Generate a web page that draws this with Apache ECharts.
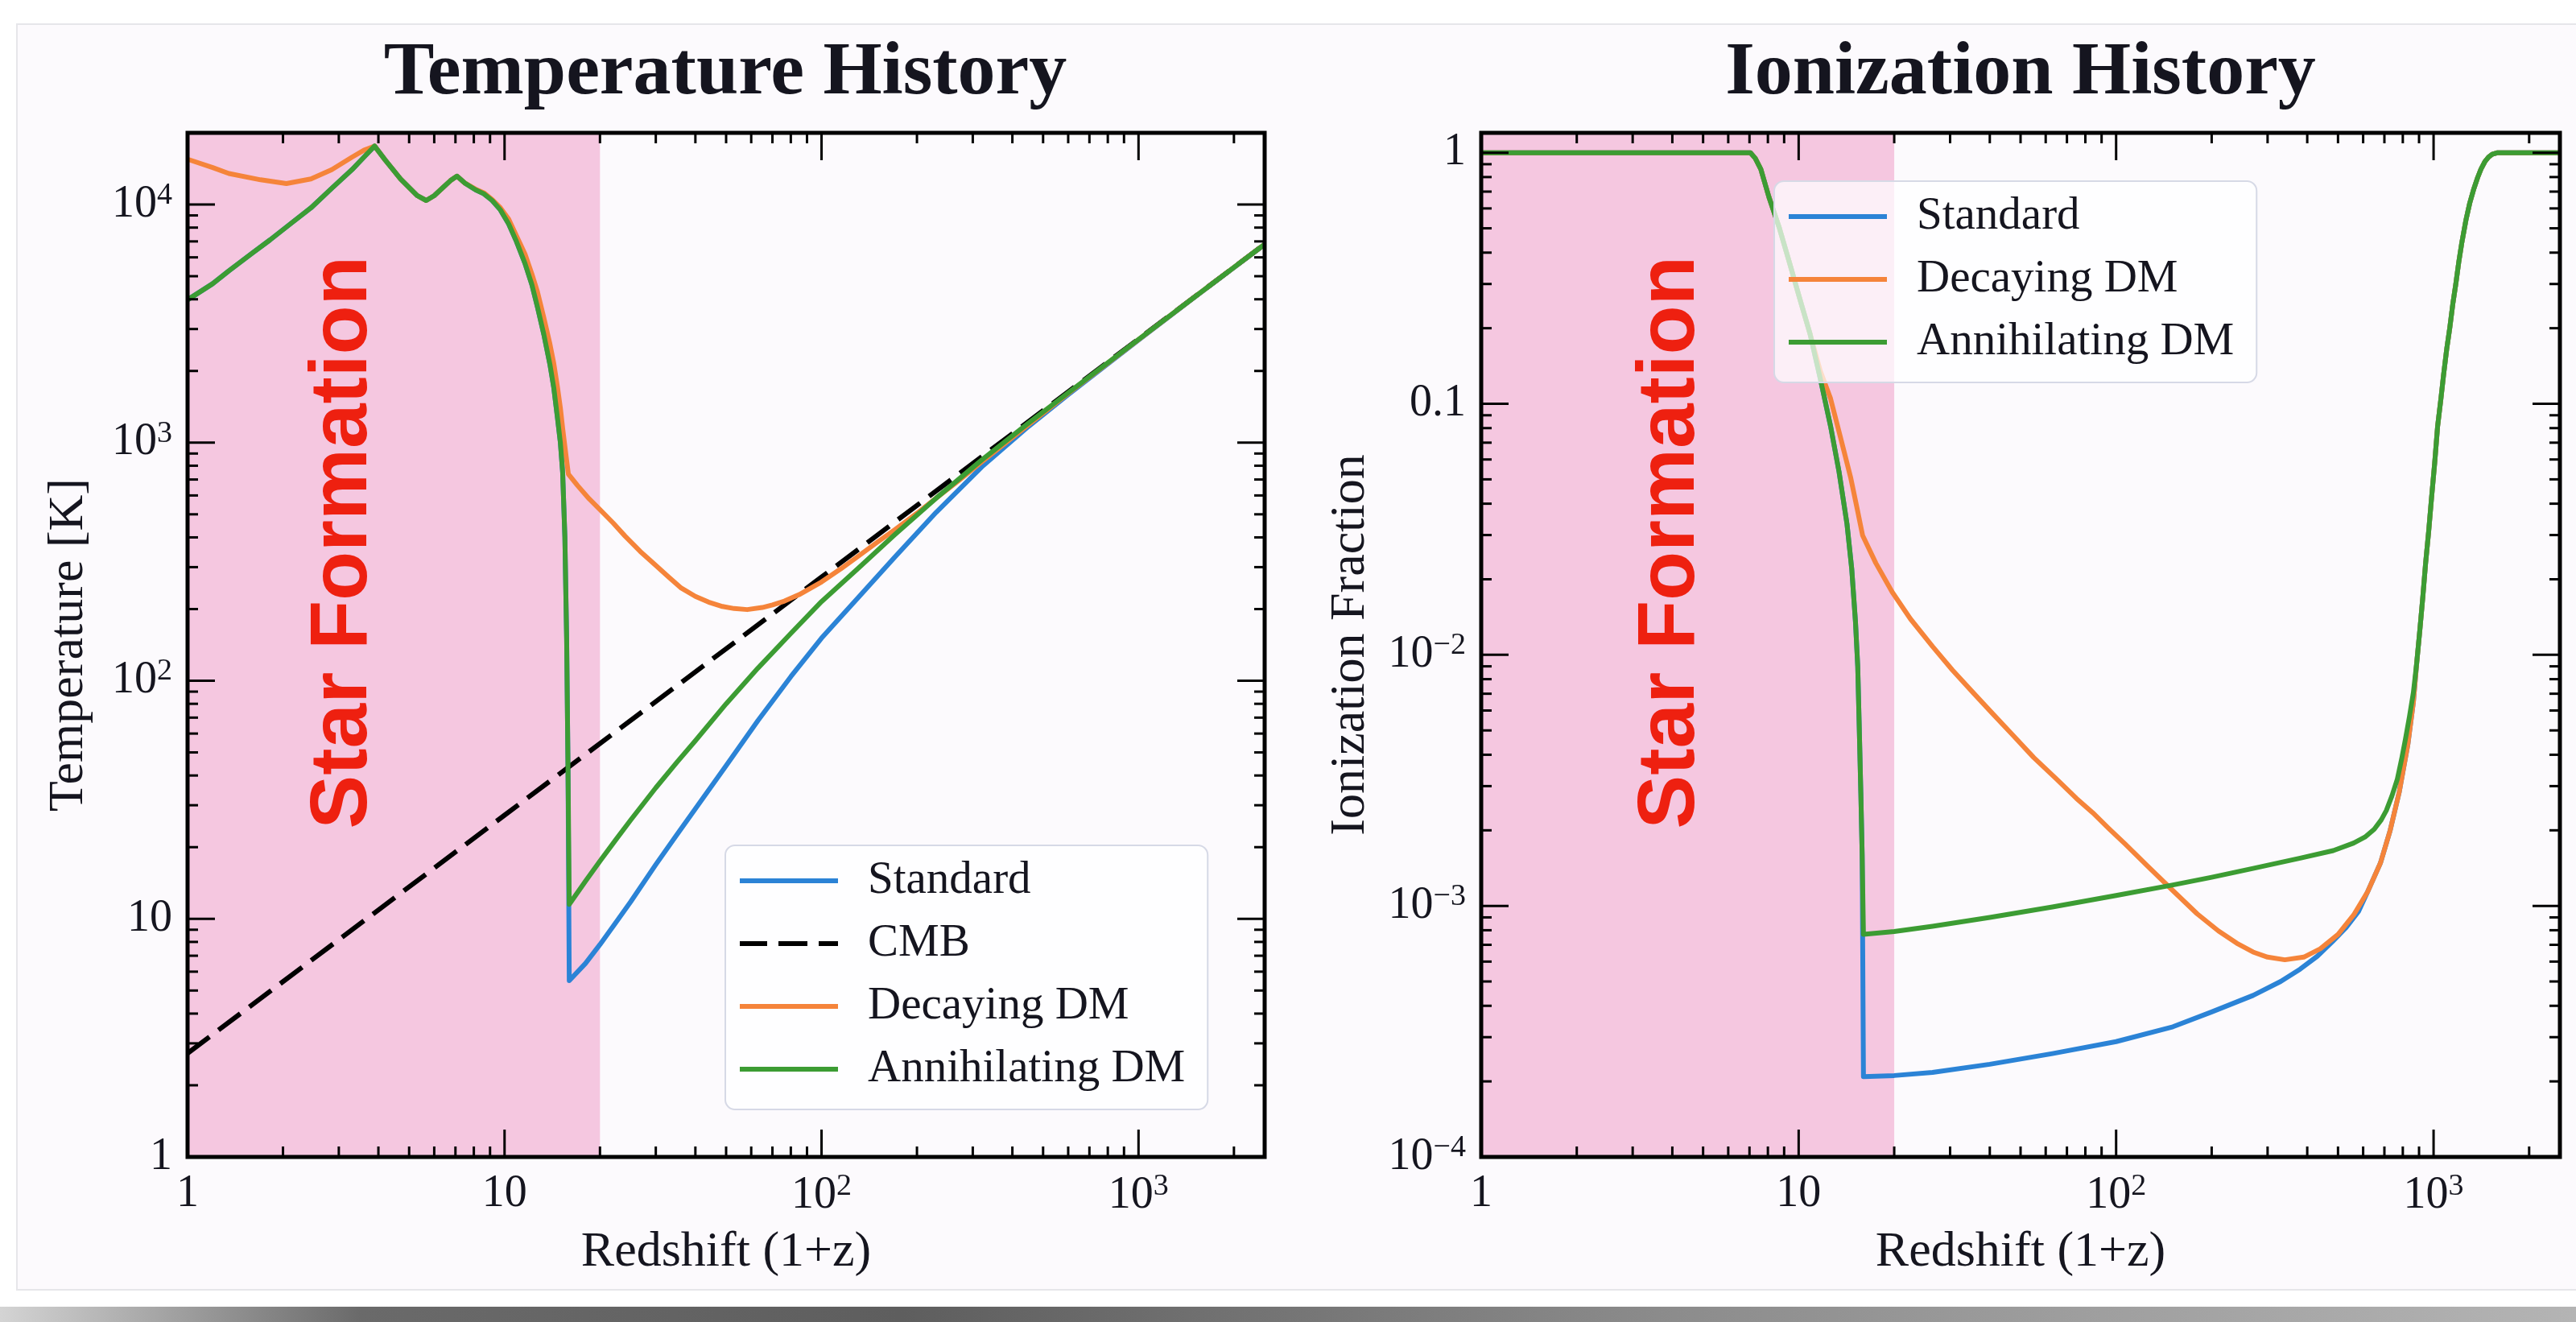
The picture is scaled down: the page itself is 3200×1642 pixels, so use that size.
<!DOCTYPE html>
<html>
<head>
<meta charset="utf-8">
<title>Temperature and Ionization History</title>
<script src="https://cdn.jsdelivr.net/npm/echarts@6/dist/echarts.min.js"></script>
<style>
  html, body { margin: 0; padding: 0; background: #ffffff; }
  #stage { position: relative; width: 3200px; height: 1642px; overflow: hidden; background: #ffffff; }
  #panel { position: absolute; left: 20px; top: 29px; width: 3190px; height: 1574px;
           background: #fcfafd; border: 2px solid #e6e6ea; box-sizing: border-box; }
  #shadow { position: absolute; left: 0; top: 1623px; width: 3200px; height: 19px;
            background: linear-gradient(90deg, #d4d4d4 0%, #6a6a6a 14%, #5e5e5e 35%, #8c8c8c 65%, #b4b4b4 100%); }
  #chart { position: absolute; left: 0; top: 0; width: 3200px; height: 1642px; }
</style>
</head>
<body>
<div id="stage">
  <div id="panel"></div>
  <div id="shadow"></div>
  <div id="chart"></div>
</div>
<script>
// ---------- Temperature history: gas temperature [K] against redshift (1+z) ----------
const tempStandardZ = [1, 1.2, 1.35, 1.6, 1.82, 2.1, 2.45, 2.85, 3.3, 3.6, 3.89, 4.2, 4.7, 5.3, 5.66, 6.0,
  6.38, 6.75, 7.08, 7.5, 8.1, 8.6, 9.14, 9.7, 10.3, 10.9, 11.6, 12.2, 12.7, 13.3, 13.9, 14.3, 14.7, 15.0,
  15.25, 15.5, 15.7, 15.85, 16.0, 18, 20, 22.5, 25, 30, 35, 40, 50, 63, 80, 100, 130, 170, 230, 320,
  450, 600, 1000, 1500, 2500];
const tempStandardT = [3980, 4650, 5270, 6250, 7100, 8250, 9680, 11700, 14000, 15800, 17600, 15400, 12800,
  10900, 10400, 10900, 11750, 12600, 13150, 12300, 11530, 11100, 10400, 9500, 8300, 7000, 5660, 4600,
  3715, 2850, 2135, 1700, 1260, 1000, 750, 400, 150, 45, 5.5, 6.5, 7.8, 9.7, 11.8, 16.9, 22.6, 29, 44,
  68, 104, 151, 222, 330, 510, 790, 1170, 1590, 2695, 4070, 6800];

const tempCmbZ = [1, 10, 100, 1000, 2500];
const tempCmbT = [2.725, 27.25, 272.5, 2725, 6812.5];

const tempDecayZ = [1, 1.2, 1.35, 1.7, 2.05, 2.45, 2.85, 3.3, 3.6, 3.89, 4.2, 4.7, 5.3, 5.66, 6.0, 6.38,
  6.75, 7.08, 7.5, 8.1, 8.6, 9.14, 9.7, 10.3, 10.9, 11.6, 12.2, 12.7, 13.3, 13.9, 14.3, 14.7, 15.0,
  15.25, 15.6, 15.9, 17, 18.5, 19.9, 22, 24, 26.8, 30, 33, 36.1, 40, 44, 48.7, 53, 58.3, 65, 70, 76.4,
  85, 100, 115, 130, 150, 170, 200, 230, 270, 320, 450, 600, 1000, 1500, 2500];
const tempDecayT = [15500, 14300, 13500, 12700, 12250, 12800, 14000, 15800, 16900, 17600, 15400, 12800,
  10900, 10400, 10900, 11750, 12600, 13150, 12300, 11600, 11200, 10500, 9700, 8700, 7400, 6200, 5100,
  4300, 3350, 2600, 2150, 1700, 1400, 1150, 900, 738, 660, 580, 527, 460, 405, 349, 305, 272, 245, 226,
  214, 205, 201, 199, 203, 208, 216, 230, 260, 295, 332, 382, 430, 505, 585, 690, 830, 1190, 1610,
  2705, 4080, 6810];

const tempAnnihZ = [1, 1.2, 1.35, 1.6, 1.82, 2.1, 2.45, 2.85, 3.3, 3.6, 3.89, 4.2, 4.7, 5.3, 5.66, 6.0,
  6.38, 6.75, 7.08, 7.5, 8.1, 8.6, 9.14, 9.7, 10.3, 10.9, 11.6, 12.2, 12.7, 13.3, 13.9, 14.3, 14.7, 15.0,
  15.25, 15.5, 15.7, 15.85, 16.0, 18, 20, 22.5, 25, 30, 35, 40, 50, 63, 80, 100, 130, 170, 230, 320,
  450, 600, 1000, 1500, 2500];
const tempAnnihT = [3980, 4650, 5270, 6250, 7100, 8250, 9680, 11700, 14000, 15800, 17600, 15400, 12800,
  10900, 10400, 10900, 11750, 12600, 13150, 12300, 11530, 11100, 10400, 9500, 8300, 7000, 5660, 4600,
  3715, 2850, 2135, 1700, 1260, 1000, 750, 400, 150, 45, 11.5, 14.4, 17.5, 21.6, 26, 35.5, 45.5, 56, 80,
  113, 158, 215, 295, 410, 585, 845, 1210, 1620, 2710, 4080, 6810];

// ---------- Ionization history: free electron fraction against redshift (1+z) ----------
const ionStandardZ = [1, 7.05, 7.3, 7.6, 8.06, 8.7, 9.35, 10.1, 10.86, 11.7, 12.6, 13.4, 14.2, 14.7, 15.1,
  15.35, 15.5, 15.7, 15.85, 16.0, 20, 26.4, 40, 63, 100, 151, 200, 270, 330, 380, 430, 480, 530, 580,
  620, 680, 730, 780, 830, 864, 885, 905, 925, 944, 965, 985, 1008, 1030, 1055, 1075, 1100, 1125,
  1150, 1175, 1200, 1227, 1265, 1300, 1340, 1376, 1410, 1450, 1490, 1530, 1592, 2500];
const ionStandardX = [1, 1, 0.95, 0.86, 0.666, 0.5, 0.366, 0.26, 0.19, 0.126, 0.0816, 0.0537, 0.0332,
  0.0219, 0.01354, 0.009, 0.0055, 0.0028, 0.0016, 2.09e-4, 2.11e-4, 2.17e-4, 2.34e-4, 2.58e-4, 2.88e-4,
  3.3e-4, 3.78e-4, 4.4e-4, 5.0e-4, 5.6e-4, 6.3e-4, 7.2e-4, 8.2e-4, 9.5e-4, 1.14e-3, 1.48e-3, 2.0e-3,
  2.85e-3, 4.4e-3, 6.5e-3, 9.3e-3, 0.0125, 0.017, 0.0232, 0.031, 0.042, 0.058, 0.0816, 0.105, 0.13,
  0.165, 0.201, 0.25, 0.3, 0.365, 0.437, 0.54, 0.63, 0.72, 0.795, 0.86, 0.92, 0.96, 0.985, 1, 1];

const ionDecayZ = [1, 7.05, 7.3, 7.6, 8.06, 8.7, 9.35, 10.1, 10.86, 11.7, 12.6, 13.6, 14.6, 15.3, 15.9,
  17.5, 19.7, 22.5, 26.4, 30.5, 35.7, 41, 47.2, 55, 64.9, 75, 84.4, 95, 107, 125, 151, 180, 210, 240,
  270, 300, 340, 390, 440, 500, 560, 620, 680, 730, 780, 830, 864, 885, 905, 925, 944, 965, 985, 1008,
  1030, 1055, 1075, 1100, 1125, 1150, 1175, 1200, 1227, 1265, 1300, 1340, 1376, 1410, 1450, 1490,
  1530, 1592, 2500];
const ionDecayX = [1, 1, 0.95, 0.86, 0.666, 0.5, 0.366, 0.26, 0.19, 0.135, 0.105, 0.072, 0.0505, 0.038,
  0.0299, 0.0232, 0.0178, 0.0139, 0.0108, 0.0087, 0.0070, 0.0058, 0.0048, 0.0039, 0.0032, 0.00268,
  0.00235, 0.00203, 0.00176, 0.00145, 0.00115, 9.3e-4, 7.95e-4, 7.1e-4, 6.55e-4, 6.25e-4, 6.1e-4,
  6.25e-4, 6.75e-4, 7.7e-4, 9.2e-4, 1.14e-3, 1.48e-3, 2.0e-3, 2.85e-3, 4.4e-3, 6.5e-3, 9.3e-3, 0.0125,
  0.017, 0.0232, 0.031, 0.042, 0.058, 0.0816, 0.105, 0.13, 0.165, 0.201, 0.25, 0.3, 0.365, 0.437, 0.54,
  0.63, 0.72, 0.795, 0.86, 0.92, 0.96, 0.985, 1, 1];

const ionAnnihZ = [1, 7.05, 7.3, 7.6, 8.06, 8.7, 9.35, 10.1, 10.86, 11.7, 12.6, 13.4, 14.2, 14.7, 15.1,
  15.35, 15.5, 15.7, 15.85, 16.0, 20, 26.4, 40, 63, 100, 150, 200, 270, 380, 483, 560, 608, 650, 684,
  710, 740, 769, 795, 815, 840, 864, 885, 905, 925, 944, 965, 985, 1008, 1030, 1055, 1075, 1100, 1125,
  1150, 1175, 1200, 1227, 1265, 1300, 1340, 1376, 1410, 1450, 1490, 1530, 1592, 2500];
const ionAnnihX = [1, 1, 0.95, 0.86, 0.666, 0.5, 0.366, 0.26, 0.19, 0.126, 0.0816, 0.0537, 0.0332, 0.0219,
  0.01354, 0.009, 0.0055, 0.0028, 0.0016, 7.7e-4, 7.9e-4, 8.3e-4, 9.0e-4, 9.9e-4, 1.1e-3, 1.21e-3,
  1.3e-3, 1.41e-3, 1.55e-3, 1.66e-3, 1.78e-3, 1.88e-3, 2.02e-3, 2.2e-3, 2.4e-3, 2.75e-3, 3.2e-3,
  3.9e-3, 4.6e-3, 5.7e-3, 7.1e-3, 9.3e-3, 0.0125, 0.017, 0.0232, 0.031, 0.042, 0.058, 0.0816, 0.105,
  0.13, 0.165, 0.201, 0.25, 0.3, 0.365, 0.437, 0.54, 0.63, 0.72, 0.795, 0.86, 0.92, 0.96, 0.985, 1, 1];

// ---------- Axis ranges, ticks and the star-formation epoch ----------
const zRange = [1, 2500];
const tempRange = [1, 20000];
const ionRange = [1e-4, 1.2];
const starFormationRange = [1, 20];

const zMajorTicks = [10, 100, 1000];
const zMinorTicks = [2, 3, 4, 5, 6, 7, 8, 9, 20, 30, 40, 50, 60, 70, 80, 90,
  200, 300, 400, 500, 600, 700, 800, 900, 2000];
const tempMajorTicks = [10, 100, 1000, 10000];
const tempMinorTicks = [2, 3, 4, 5, 6, 7, 8, 9, 20, 30, 40, 50, 60, 70, 80, 90,
  200, 300, 400, 500, 600, 700, 800, 900, 2000, 3000, 4000, 5000, 6000, 7000, 8000, 9000];
const ionMajorTicks = [1e-3, 1e-2, 0.1, 1];
const ionMinorTicks = [2e-4, 3e-4, 4e-4, 5e-4, 6e-4, 7e-4, 8e-4, 9e-4, 2e-3, 3e-3, 4e-3, 5e-3, 6e-3,
  7e-3, 8e-3, 9e-3, 0.02, 0.03, 0.04, 0.05, 0.06, 0.07, 0.08, 0.09, 0.2, 0.3, 0.4, 0.5, 0.6, 0.7, 0.8, 0.9];

// ---------- Styling ----------
const SERIF = '"Liberation Serif", "DejaVu Serif", serif';
const SANS = '"Liberation Sans", Arial, sans-serif';
const INK = '#15151f';
const COLORS = { standard: '#2b83d6', cmb: '#000000', decay: '#f5843a', annih: '#3c9c33' };
const LINE_W = 6;
const DASH = [34, 14];
const FRAME_W = 5, TICK_W = 3, MAJOR_LEN = 34, MINOR_LEN = 13;
// legend keys: a solid bar, and a three-dash bar for the CMB line
const SOLID_KEY = 'rect';
const DASHED_KEY = 'path://M0,0H34V6H0Z M48,0H84V6H48Z M98,0H122V6H98Z';

function zip(xs, ys) { return xs.map((x, i) => [x, ys[i]]); }

function powerLabel(v) {
  const e = Math.round(Math.log10(v));
  if (Math.abs(Math.log10(v) - e) > 1e-6) return '';
  if (e === 0) return '1';
  if (e === 1) return '10';
  if (e === -1) return '0.1';
  return '10{sup|' + (e < 0 ? '\u2212' + (-e) : e) + '}';
}

const labelStyle = {
  fontSize: 56, fontFamily: SERIF, color: INK, formatter: powerLabel,
  rich: { sup: { fontSize: 38, fontFamily: SERIF, color: INK, verticalAlign: 'top', padding: [0, 0, 22, 0] } }
};

function lineSeries(name, gridIdx, data, color, dashed) {
  return {
    type: 'line', name, xAxisIndex: gridIdx, yAxisIndex: gridIdx, data,
    symbol: 'none', smooth: false, z: 3, silent: true,
    lineStyle: { color, width: LINE_W, type: dashed ? DASH : 'solid', cap: 'butt', join: 'round' },
    itemStyle: { color }
  };
}

// Shaded star-formation band plus its rotated caption
function bandSeries(gridIdx, yRef, captionFracX, captionFracY) {
  return {
    type: 'custom', xAxisIndex: gridIdx, yAxisIndex: gridIdx, z: 1, silent: true,
    data: [[starFormationRange[0], yRef, starFormationRange[1]]],
    encode: { x: [0, 2], y: 1 },
    renderItem(params, api) {
      const cs = params.coordSys;
      const x0 = api.coord([api.value(0), yRef])[0];
      const x1 = api.coord([api.value(2), yRef])[0];
      return {
        type: 'group',
        children: [
          { type: 'rect', shape: { x: x0, y: cs.y, width: x1 - x0, height: cs.height },
            style: { fill: '#f5c7e0' } },
          { type: 'text', x: x0 + captionFracX * (x1 - x0), y: cs.y + captionFracY * cs.height,
            rotation: Math.PI / 2,
            style: { text: 'Star Formation', fill: '#ee2010', fontSize: 100, fontWeight: 'bold',
                     fontFamily: SANS, align: 'center', verticalAlign: 'middle' } }
        ]
      };
    }
  };
}

// Box frame with inward major/minor ticks on all four sides
function frameSeries(gridIdx, xMajor, xMinor, yMajor, yMinor, xRef, yRef) {
  return {
    type: 'custom', xAxisIndex: gridIdx, yAxisIndex: gridIdx, z: 6, silent: true,
    data: [[xRef, yRef]],
    renderItem(params, api) {
      const cs = params.coordSys;
      const top = cs.y, bottom = cs.y + cs.height, left = cs.x, right = cs.x + cs.width;
      const children = [];
      const seg = (x1, y1, x2, y2) => children.push({
        type: 'line', shape: { x1, y1, x2, y2 }, style: { stroke: '#000', lineWidth: TICK_W }
      });
      const xTicks = (vals, len) => vals.forEach(v => {
        const px = api.coord([v, yRef])[0];
        seg(px, bottom, px, bottom - len); seg(px, top, px, top + len);
      });
      const yTicks = (vals, len) => vals.forEach(v => {
        const py = api.coord([xRef, v])[1];
        seg(left, py, left + len, py); seg(right, py, right - len, py);
      });
      xTicks(xMajor, MAJOR_LEN); xTicks(xMinor, MINOR_LEN);
      yTicks(yMajor, MAJOR_LEN); yTicks(yMinor, MINOR_LEN);
      children.push({ type: 'rect', shape: { x: left, y: top, width: cs.width, height: cs.height },
        style: { fill: 'none', stroke: '#000', lineWidth: FRAME_W } });
      return { type: 'group', children };
    }
  };
}

function logAxis(gridIdx, range, name, nameGap, isY) {
  return {
    type: 'log', logBase: 10, gridIndex: gridIdx, min: range[0], max: range[1],
    axisLine: { show: false }, axisTick: { show: false }, splitLine: { show: false },
    minorTick: { show: false }, minorSplitLine: { show: false },
    axisLabel: Object.assign({ margin: isY ? 19 : 18 }, labelStyle),
    name, nameLocation: 'middle', nameGap, nameRotate: isY ? 90 : 0,
    nameTextStyle: { fontSize: 62, fontFamily: SERIF, color: INK }
  };
}

const legendBase = {
  orient: 'vertical', itemWidth: 122, itemHeight: 6, itemGap: 18, selectedMode: false,
  backgroundColor: 'rgba(255,255,255,0.72)', borderColor: '#d6d9e6', borderWidth: 2, borderRadius: 12,
  padding: [14, 28, 20, 18], z: 20,
  itemStyle: { borderWidth: 0 },
  textStyle: { fontSize: 57, fontFamily: SERIF, color: INK, lineHeight: 60, padding: [0, 0, 0, 32] }
};

const chart = echarts.init(document.getElementById('chart'), null, { renderer: 'canvas', width: 3200, height: 1642 });

chart.setOption({
  animation: false,
  backgroundColor: 'transparent',
  title: [
    { text: 'Temperature History', left: 896, top: 40, textAlign: 'center',
      textStyle: { fontSize: 94, fontWeight: 'bold', fontFamily: SERIF, color: INK } },
    { text: 'Ionization History', left: 2505, top: 40, textAlign: 'center',
      textStyle: { fontSize: 94, fontWeight: 'bold', fontFamily: SERIF, color: INK } }
  ],
  grid: [
    { left: 233, top: 165, width: 1338, height: 1272, outerBoundsMode: 'none', containLabel: false },
    { left: 1840, top: 165, width: 1340, height: 1272, outerBoundsMode: 'none', containLabel: false }
  ],
  xAxis: [
    logAxis(0, zRange, 'Redshift (1+z)', 88, false),
    logAxis(1, zRange, 'Redshift (1+z)', 88, false)
  ],
  yAxis: [
    logAxis(0, tempRange, 'Temperature [K]', 116, true),
    logAxis(1, ionRange, 'Ionization Fraction', 131, true)
  ],
  legend: [
    Object.assign({}, legendBase, { left: 901, top: 1050,
      data: [
        { name: 'Standard', icon: SOLID_KEY },
        { name: 'CMB', icon: DASHED_KEY },
        { name: 'Decaying DM', icon: SOLID_KEY },
        { name: 'Annihilating DM', icon: SOLID_KEY }
      ] }),
    Object.assign({}, legendBase, { left: 2204, top: 225,
      data: [
        { name: 'Standard', icon: SOLID_KEY },
        { name: 'Decaying DM', icon: SOLID_KEY },
        { name: 'Annihilating DM', icon: SOLID_KEY }
      ] })
  ],
  series: [
    bandSeries(0, tempRange[0], 0.38, 0.40),
    bandSeries(1, ionRange[0], 0.46, 0.40),

    lineSeries('Standard', 0, zip(tempStandardZ, tempStandardT), COLORS.standard, false),
    lineSeries('CMB', 0, zip(tempCmbZ, tempCmbT), COLORS.cmb, true),
    lineSeries('Decaying DM', 0, zip(tempDecayZ, tempDecayT), COLORS.decay, false),
    lineSeries('Annihilating DM', 0, zip(tempAnnihZ, tempAnnihT), COLORS.annih, false),

    lineSeries('Standard', 1, zip(ionStandardZ, ionStandardX), COLORS.standard, false),
    lineSeries('Decaying DM', 1, zip(ionDecayZ, ionDecayX), COLORS.decay, false),
    lineSeries('Annihilating DM', 1, zip(ionAnnihZ, ionAnnihX), COLORS.annih, false),

    frameSeries(0, zMajorTicks, zMinorTicks, tempMajorTicks, tempMinorTicks, zRange[0], tempRange[0]),
    frameSeries(1, zMajorTicks, zMinorTicks, ionMajorTicks, ionMinorTicks, zRange[0], ionRange[0])
  ]
});
</script>
</body>
</html>
